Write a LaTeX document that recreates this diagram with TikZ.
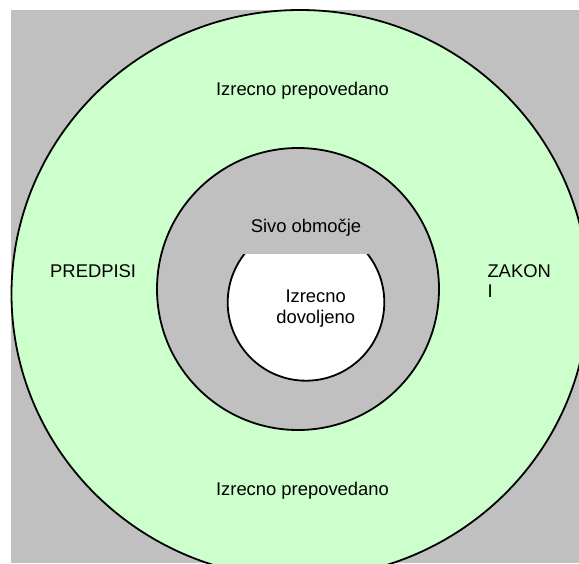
\documentclass[tikz,border=0pt]{standalone}
\usepackage{fontspec}
\setmainfont{Liberation Sans}
\definecolor{ZoneGreen}{RGB}{204,255,204}
\definecolor{ZoneGray}{RGB}{192,192,192}

\begin{document}
\begin{tikzpicture}[x=1pt, y=-1pt,
          zone/.style={draw=black, line width=1.8pt},
          lbl/.style={font=\fontsize{18.4}{20.7}\selectfont, inner sep=0pt}
        ]
        % Frame
        \useasboundingbox (0,0) rectangle (579,563);
        \clip (0,0) rectangle (579,563);
        \fill[ZoneGray] (11,10) rectangle (579,563);

        % Rings
        \draw[zone, fill=ZoneGreen] (300,294) ellipse [x radius=288.5, y radius=284];
        \draw[zone, fill=ZoneGray] (298,289) circle [radius=141];
        \draw[zone, fill=white] (306,302.4) circle [radius=78.3];

        % Outer ring labels
        \node[lbl, anchor=base] (topban) at (302.5,95) {Izrecno prepovedano};
        \node[lbl, anchor=base] (bottomban) at (302.5,495) {Izrecno prepovedano};
        \node[lbl, anchor=base west] (predpisi) at (50,277) {PREDPISI};
        \node[lbl, anchor=base west, align=left] (zakon) at (487.3,297.7) {ZAKON\\I};

        % Grey zone label, its box hides the top of the inner circle
        \node[lbl, fill=ZoneGray, minimum width=150, minimum height=52,
              anchor=south] (sivo) at (306,254) {Sivo območje};

        % Inner circle label
        \node[lbl, anchor=base, align=center] (dovoljeno) at (315.7,323.3)
              {Izrecno\\dovoljeno};
      \end{tikzpicture}
\end{document}
